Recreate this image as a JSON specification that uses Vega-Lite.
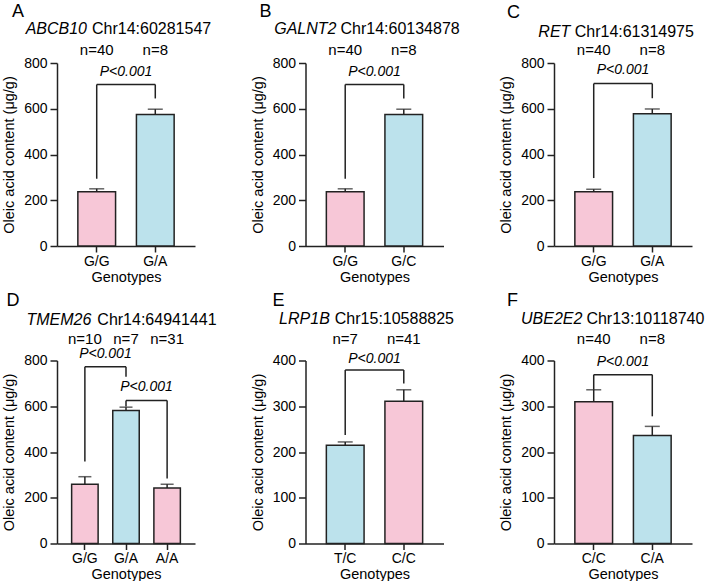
{
  "$schema": "https://vega.github.io/schema/vega-lite/v6.json",
  "background": "white",
  "padding": {"left": 1, "top": 3, "right": 0, "bottom": 0},
  "config": {
    "view": {"stroke": null},
    "font": "Liberation Sans",
    "axis": {"domainColor": "#222", "domainWidth": 1.5, "tickColor": "#222", "tickWidth": 1.5, "labelFont": "Liberation Sans", "labelFontSize": 14, "labelColor": "#000", "titleFont": "Liberation Sans", "titleFontSize": 14.5, "titleFontWeight": "normal", "titleColor": "#000", "grid": false},
    "axisX": {"tickSize": 6, "labelPadding": 2, "titlePadding": 2, "labelAngle": 0},
    "axisY": {"tickSize": 7, "labelPadding": 3, "titlePadding": 7},
    "text": {"font": "Liberation Sans", "fontSize": 14, "color": "#000", "baseline": "alphabetic"},
    "rule": {"color": "#222", "strokeWidth": 1.5},
    "tick": {"color": "#222", "thickness": 1.5},
    "bar": {"stroke": "#222", "strokeWidth": 1.5}
  },
  "columns": 3,
  "spacing": {"row": 114.5, "column": 110.5},
  "bounds": "flush",
  "concat": [
    {
      "width": 138, "height": 183,
      "data": {"values": [
        {"g": "G/G", "mean": 237, "upper": 250, "n": "n=40", "hom": "homo"},
        {"g": "G/A", "mean": 575, "upper": 598, "n": "n=8", "hom": "het"}
      ]},
      "layer": [
        {"mark": "bar", "encoding": {
          "x": {"field": "g", "type": "nominal", "scale": {"domain": ["G/G", "G/A"], "paddingInner": 0.356, "paddingOuter": 0.356}, "axis": {"title": "Genotypes"}},
          "y": {"field": "mean", "type": "quantitative", "scale": {"domain": [0, 800]}, "axis": {"title": "Oleic acid content (μg/g)", "values": [0, 200, 400, 600, 800]}},
          "color": {"field": "hom", "type": "nominal", "scale": {"domain": ["homo", "het"], "range": ["#F7C7D7", "#BCE2EC"]}, "legend": null}}},
        {"mark": "rule", "encoding": {
          "x": {"field": "g", "type": "nominal", "scale": {"domain": ["G/G", "G/A"], "paddingInner": 0.356, "paddingOuter": 0.356}},
          "y": {"field": "mean", "type": "quantitative", "scale": {"domain": [0, 800]}}, "y2": {"field": "upper"}}},
        {"mark": {"type": "tick", "size": 15}, "encoding": {
          "x": {"field": "g", "type": "nominal", "scale": {"domain": ["G/G", "G/A"], "paddingInner": 0.356, "paddingOuter": 0.356}},
          "y": {"field": "upper", "type": "quantitative", "scale": {"domain": [0, 800]}}}},
        {"mark": {"type": "text", "fontSize": 15}, "encoding": {
          "x": {"field": "g", "type": "nominal", "scale": {"domain": ["G/G", "G/A"], "paddingInner": 0.356, "paddingOuter": 0.356}},
          "y": {"datum": 837, "type": "quantitative", "scale": {"domain": [0, 800]}},
          "text": {"field": "n"}}},
        {"data": {"values": [{"from": "G/G", "to": "G/A", "top": 706, "lb": 294, "rb": 645, "pt": 745, "p": "P<0.001"}]},
         "layer": [
          {"mark": "rule", "encoding": {
            "x": {"field": "from", "type": "nominal", "scale": {"domain": ["G/G", "G/A"], "paddingInner": 0.356, "paddingOuter": 0.356}}, "x2": {"field": "to"},
            "y": {"field": "top", "type": "quantitative", "scale": {"domain": [0, 800]}}}},
          {"mark": "rule", "encoding": {
            "x": {"field": "from", "type": "nominal", "scale": {"domain": ["G/G", "G/A"], "paddingInner": 0.356, "paddingOuter": 0.356}},
            "y": {"field": "lb", "type": "quantitative", "scale": {"domain": [0, 800]}}, "y2": {"field": "top"}}},
          {"mark": "rule", "encoding": {
            "x": {"field": "to", "type": "nominal", "scale": {"domain": ["G/G", "G/A"], "paddingInner": 0.356, "paddingOuter": 0.356}},
            "y": {"field": "rb", "type": "quantitative", "scale": {"domain": [0, 800]}}, "y2": {"field": "top"}}},
          {"mark": {"type": "text", "fontStyle": "italic"}, "encoding": {
            "x": {"field": "from", "type": "nominal", "bandPosition": 1.276, "scale": {"domain": ["G/G", "G/A"], "paddingInner": 0.356, "paddingOuter": 0.356}},
            "y": {"field": "pt", "type": "quantitative", "scale": {"domain": [0, 800]}},
            "text": {"field": "p"}}}
         ]},
        {"data": {"values": [{}]},
         "layer": [
          {"mark": {"type": "text", "text": "ABCB10", "fontStyle": "italic", "fontSize": 16, "align": "right"}, "encoding": {
            "x": {"datum": "G/G", "type": "nominal", "bandPosition": 0.243, "scale": {"domain": ["G/G", "G/A"], "paddingInner": 0.356, "paddingOuter": 0.356}},
            "y": {"datum": 925, "type": "quantitative", "scale": {"domain": [0, 800]}}}},
          {"mark": {"type": "text", "text": "Chr14:60281547", "fontSize": 16, "align": "left"}, "encoding": {
            "x": {"datum": "G/G", "type": "nominal", "bandPosition": 0.375, "scale": {"domain": ["G/G", "G/A"], "paddingInner": 0.356, "paddingOuter": 0.356}},
            "y": {"datum": 925, "type": "quantitative", "scale": {"domain": [0, 800]}}}},
          {"mark": {"type": "text", "text": "A", "fontSize": 18, "align": "left"}, "encoding": {
            "x": {"datum": "G/G", "type": "nominal", "bandPosition": -1.747, "scale": {"domain": ["G/G", "G/A"], "paddingInner": 0.356, "paddingOuter": 0.356}},
            "y": {"datum": 1000, "type": "quantitative", "scale": {"domain": [0, 800]}}}}
         ]}
      ]
    },
    {
      "width": 138, "height": 183,
      "data": {"values": [
        {"g": "G/G", "mean": 237, "upper": 250, "n": "n=40", "hom": "homo"},
        {"g": "G/C", "mean": 575, "upper": 598, "n": "n=8", "hom": "het"}
      ]},
      "layer": [
        {"mark": "bar", "encoding": {
          "x": {"field": "g", "type": "nominal", "scale": {"domain": ["G/G", "G/C"], "paddingInner": 0.356, "paddingOuter": 0.356}, "axis": {"title": "Genotypes"}},
          "y": {"field": "mean", "type": "quantitative", "scale": {"domain": [0, 800]}, "axis": {"title": "Oleic acid content (μg/g)", "values": [0, 200, 400, 600, 800]}},
          "color": {"field": "hom", "type": "nominal", "scale": {"domain": ["homo", "het"], "range": ["#F7C7D7", "#BCE2EC"]}, "legend": null}}},
        {"mark": "rule", "encoding": {
          "x": {"field": "g", "type": "nominal", "scale": {"domain": ["G/G", "G/C"], "paddingInner": 0.356, "paddingOuter": 0.356}},
          "y": {"field": "mean", "type": "quantitative", "scale": {"domain": [0, 800]}}, "y2": {"field": "upper"}}},
        {"mark": {"type": "tick", "size": 15}, "encoding": {
          "x": {"field": "g", "type": "nominal", "scale": {"domain": ["G/G", "G/C"], "paddingInner": 0.356, "paddingOuter": 0.356}},
          "y": {"field": "upper", "type": "quantitative", "scale": {"domain": [0, 800]}}}},
        {"mark": {"type": "text", "fontSize": 15}, "encoding": {
          "x": {"field": "g", "type": "nominal", "scale": {"domain": ["G/G", "G/C"], "paddingInner": 0.356, "paddingOuter": 0.356}},
          "y": {"datum": 837, "type": "quantitative", "scale": {"domain": [0, 800]}},
          "text": {"field": "n"}}},
        {"data": {"values": [{"from": "G/G", "to": "G/C", "top": 706, "lb": 294, "rb": 645, "pt": 745, "p": "P<0.001"}]},
         "layer": [
          {"mark": "rule", "encoding": {
            "x": {"field": "from", "type": "nominal", "scale": {"domain": ["G/G", "G/C"], "paddingInner": 0.356, "paddingOuter": 0.356}}, "x2": {"field": "to"},
            "y": {"field": "top", "type": "quantitative", "scale": {"domain": [0, 800]}}}},
          {"mark": "rule", "encoding": {
            "x": {"field": "from", "type": "nominal", "scale": {"domain": ["G/G", "G/C"], "paddingInner": 0.356, "paddingOuter": 0.356}},
            "y": {"field": "lb", "type": "quantitative", "scale": {"domain": [0, 800]}}, "y2": {"field": "top"}}},
          {"mark": "rule", "encoding": {
            "x": {"field": "to", "type": "nominal", "scale": {"domain": ["G/G", "G/C"], "paddingInner": 0.356, "paddingOuter": 0.356}},
            "y": {"field": "rb", "type": "quantitative", "scale": {"domain": [0, 800]}}, "y2": {"field": "top"}}},
          {"mark": {"type": "text", "fontStyle": "italic"}, "encoding": {
            "x": {"field": "from", "type": "nominal", "bandPosition": 1.276, "scale": {"domain": ["G/G", "G/C"], "paddingInner": 0.356, "paddingOuter": 0.356}},
            "y": {"field": "pt", "type": "quantitative", "scale": {"domain": [0, 800]}},
            "text": {"field": "p"}}}
         ]},
        {"data": {"values": [{}]},
         "layer": [
          {"mark": {"type": "text", "text": "GALNT2", "fontStyle": "italic", "fontSize": 16, "align": "right"}, "encoding": {
            "x": {"datum": "G/G", "type": "nominal", "bandPosition": 0.269, "scale": {"domain": ["G/G", "G/C"], "paddingInner": 0.356, "paddingOuter": 0.356}},
            "y": {"datum": 925, "type": "quantitative", "scale": {"domain": [0, 800]}}}},
          {"mark": {"type": "text", "text": "Chr14:60134878", "fontSize": 16, "align": "left"}, "encoding": {
            "x": {"datum": "G/G", "type": "nominal", "bandPosition": 0.375, "scale": {"domain": ["G/G", "G/C"], "paddingInner": 0.356, "paddingOuter": 0.356}},
            "y": {"datum": 925, "type": "quantitative", "scale": {"domain": [0, 800]}}}},
          {"mark": {"type": "text", "text": "B", "fontSize": 18, "align": "left"}, "encoding": {
            "x": {"datum": "G/G", "type": "nominal", "bandPosition": -1.773, "scale": {"domain": ["G/G", "G/C"], "paddingInner": 0.356, "paddingOuter": 0.356}},
            "y": {"datum": 1000, "type": "quantitative", "scale": {"domain": [0, 800]}}}}
         ]}
      ]
    },
    {
      "width": 138, "height": 183,
      "data": {"values": [
        {"g": "G/G", "mean": 237, "upper": 248, "n": "n=40", "hom": "homo"},
        {"g": "G/A", "mean": 578, "upper": 599, "n": "n=8", "hom": "het"}
      ]},
      "layer": [
        {"mark": "bar", "encoding": {
          "x": {"field": "g", "type": "nominal", "scale": {"domain": ["G/G", "G/A"], "paddingInner": 0.356, "paddingOuter": 0.356}, "axis": {"title": "Genotypes"}},
          "y": {"field": "mean", "type": "quantitative", "scale": {"domain": [0, 800]}, "axis": {"title": "Oleic acid content (μg/g)", "values": [0, 200, 400, 600, 800]}},
          "color": {"field": "hom", "type": "nominal", "scale": {"domain": ["homo", "het"], "range": ["#F7C7D7", "#BCE2EC"]}, "legend": null}}},
        {"mark": "rule", "encoding": {
          "x": {"field": "g", "type": "nominal", "scale": {"domain": ["G/G", "G/A"], "paddingInner": 0.356, "paddingOuter": 0.356}},
          "y": {"field": "mean", "type": "quantitative", "scale": {"domain": [0, 800]}}, "y2": {"field": "upper"}}},
        {"mark": {"type": "tick", "size": 15}, "encoding": {
          "x": {"field": "g", "type": "nominal", "scale": {"domain": ["G/G", "G/A"], "paddingInner": 0.356, "paddingOuter": 0.356}},
          "y": {"field": "upper", "type": "quantitative", "scale": {"domain": [0, 800]}}}},
        {"mark": {"type": "text", "fontSize": 15}, "encoding": {
          "x": {"field": "g", "type": "nominal", "scale": {"domain": ["G/G", "G/A"], "paddingInner": 0.356, "paddingOuter": 0.356}},
          "y": {"datum": 833, "type": "quantitative", "scale": {"domain": [0, 800]}},
          "text": {"field": "n"}}},
        {"data": {"values": [{"from": "G/G", "to": "G/A", "top": 710, "lb": 297, "rb": 646, "pt": 750, "p": "P<0.001"}]},
         "layer": [
          {"mark": "rule", "encoding": {
            "x": {"field": "from", "type": "nominal", "scale": {"domain": ["G/G", "G/A"], "paddingInner": 0.356, "paddingOuter": 0.356}}, "x2": {"field": "to"},
            "y": {"field": "top", "type": "quantitative", "scale": {"domain": [0, 800]}}}},
          {"mark": "rule", "encoding": {
            "x": {"field": "from", "type": "nominal", "scale": {"domain": ["G/G", "G/A"], "paddingInner": 0.356, "paddingOuter": 0.356}},
            "y": {"field": "lb", "type": "quantitative", "scale": {"domain": [0, 800]}}, "y2": {"field": "top"}}},
          {"mark": "rule", "encoding": {
            "x": {"field": "to", "type": "nominal", "scale": {"domain": ["G/G", "G/A"], "paddingInner": 0.356, "paddingOuter": 0.356}},
            "y": {"field": "rb", "type": "quantitative", "scale": {"domain": [0, 800]}}, "y2": {"field": "top"}}},
          {"mark": {"type": "text", "fontStyle": "italic"}, "encoding": {
            "x": {"field": "from", "type": "nominal", "bandPosition": 1.276, "scale": {"domain": ["G/G", "G/A"], "paddingInner": 0.356, "paddingOuter": 0.356}},
            "y": {"field": "pt", "type": "quantitative", "scale": {"domain": [0, 800]}},
            "text": {"field": "p"}}}
         ]},
        {"data": {"values": [{}]},
         "layer": [
          {"mark": {"type": "text", "text": "RET", "fontStyle": "italic", "fontSize": 16, "align": "right"}, "encoding": {
            "x": {"datum": "G/G", "type": "nominal", "bandPosition": -0.12, "scale": {"domain": ["G/G", "G/A"], "paddingInner": 0.356, "paddingOuter": 0.356}},
            "y": {"datum": 915, "type": "quantitative", "scale": {"domain": [0, 800]}}}},
          {"mark": {"type": "text", "text": "Chr14:61314975", "fontSize": 16, "align": "left"}, "encoding": {
            "x": {"datum": "G/G", "type": "nominal", "bandPosition": -0.004, "scale": {"domain": ["G/G", "G/A"], "paddingInner": 0.356, "paddingOuter": 0.356}},
            "y": {"datum": 915, "type": "quantitative", "scale": {"domain": [0, 800]}}}},
          {"mark": {"type": "text", "text": "C", "fontSize": 18, "align": "left"}, "encoding": {
            "x": {"datum": "G/G", "type": "nominal", "bandPosition": -1.8, "scale": {"domain": ["G/G", "G/A"], "paddingInner": 0.356, "paddingOuter": 0.356}},
            "y": {"datum": 995, "type": "quantitative", "scale": {"domain": [0, 800]}}}}
         ]}
      ]
    },
    {
      "width": 138, "height": 183,
      "data": {"values": [
        {"g": "G/G", "mean": 259, "upper": 292, "n": "n=10", "hom": "homo"},
        {"g": "G/A", "mean": 581, "upper": 596, "n": "n=7", "hom": "het"},
        {"g": "A/A", "mean": 243, "upper": 259, "n": "n=31", "hom": "homo"}
      ]},
      "layer": [
        {"mark": "bar", "encoding": {
          "x": {"field": "g", "type": "nominal", "scale": {"domain": ["G/G", "G/A", "A/A"], "paddingInner": 0.356, "paddingOuter": 0.356}, "axis": {"title": "Genotypes"}},
          "y": {"field": "mean", "type": "quantitative", "scale": {"domain": [0, 800]}, "axis": {"title": "Oleic acid content (μg/g)", "values": [0, 200, 400, 600, 800]}},
          "color": {"field": "hom", "type": "nominal", "scale": {"domain": ["homo", "het"], "range": ["#F7C7D7", "#BCE2EC"]}, "legend": null}}},
        {"mark": "rule", "encoding": {
          "x": {"field": "g", "type": "nominal", "scale": {"domain": ["G/G", "G/A", "A/A"], "paddingInner": 0.356, "paddingOuter": 0.356}},
          "y": {"field": "mean", "type": "quantitative", "scale": {"domain": [0, 800]}}, "y2": {"field": "upper"}}},
        {"mark": {"type": "tick", "size": 13}, "encoding": {
          "x": {"field": "g", "type": "nominal", "scale": {"domain": ["G/G", "G/A", "A/A"], "paddingInner": 0.356, "paddingOuter": 0.356}},
          "y": {"field": "upper", "type": "quantitative", "scale": {"domain": [0, 800]}}}},
        {"mark": {"type": "text", "fontSize": 15}, "encoding": {
          "x": {"field": "g", "type": "nominal", "scale": {"domain": ["G/G", "G/A", "A/A"], "paddingInner": 0.356, "paddingOuter": 0.356}},
          "y": {"datum": 873, "type": "quantitative", "scale": {"domain": [0, 800]}},
          "text": {"field": "n"}}},
        {"data": {"values": [
          {"from": "G/G", "to": "G/A", "top": 773, "lb": 359, "rb": 729, "pt": 810, "p": "P<0.001"},
          {"from": "G/A", "to": "A/A", "top": 625, "lb": 599, "rb": 284, "pt": 667, "p": "P<0.001"}]},
         "layer": [
          {"mark": "rule", "encoding": {
            "x": {"field": "from", "type": "nominal", "scale": {"domain": ["G/G", "G/A", "A/A"], "paddingInner": 0.356, "paddingOuter": 0.356}}, "x2": {"field": "to"},
            "y": {"field": "top", "type": "quantitative", "scale": {"domain": [0, 800]}}}},
          {"mark": "rule", "encoding": {
            "x": {"field": "from", "type": "nominal", "scale": {"domain": ["G/G", "G/A", "A/A"], "paddingInner": 0.356, "paddingOuter": 0.356}},
            "y": {"field": "lb", "type": "quantitative", "scale": {"domain": [0, 800]}}, "y2": {"field": "top"}}},
          {"mark": "rule", "encoding": {
            "x": {"field": "to", "type": "nominal", "scale": {"domain": ["G/G", "G/A", "A/A"], "paddingInner": 0.356, "paddingOuter": 0.356}},
            "y": {"field": "rb", "type": "quantitative", "scale": {"domain": [0, 800]}}, "y2": {"field": "top"}}},
          {"mark": {"type": "text", "fontStyle": "italic"}, "encoding": {
            "x": {"field": "from", "type": "nominal", "bandPosition": 1.276, "scale": {"domain": ["G/G", "G/A", "A/A"], "paddingInner": 0.356, "paddingOuter": 0.356}},
            "y": {"field": "pt", "type": "quantitative", "scale": {"domain": [0, 800]}},
            "text": {"field": "p"}}}
         ]},
        {"data": {"values": [{}]},
         "layer": [
          {"mark": {"type": "text", "text": "TMEM26", "fontStyle": "italic", "fontSize": 16, "align": "right"}, "encoding": {
            "x": {"datum": "G/G", "type": "nominal", "bandPosition": 0.743, "scale": {"domain": ["G/G", "G/A", "A/A"], "paddingInner": 0.356, "paddingOuter": 0.356}},
            "y": {"datum": 957, "type": "quantitative", "scale": {"domain": [0, 800]}}}},
          {"mark": {"type": "text", "text": "Chr14:64941441", "fontSize": 16, "align": "left"}, "encoding": {
            "x": {"datum": "G/G", "type": "nominal", "bandPosition": 0.97, "scale": {"domain": ["G/G", "G/A", "A/A"], "paddingInner": 0.356, "paddingOuter": 0.356}},
            "y": {"datum": 957, "type": "quantitative", "scale": {"domain": [0, 800]}}}},
          {"mark": {"type": "text", "text": "D", "fontSize": 18, "align": "left"}, "encoding": {
            "x": {"datum": "G/G", "type": "nominal", "bandPosition": -2.464, "scale": {"domain": ["G/G", "G/A", "A/A"], "paddingInner": 0.356, "paddingOuter": 0.356}},
            "y": {"datum": 1040, "type": "quantitative", "scale": {"domain": [0, 800]}}}}
         ]}
      ]
    },
    {
      "width": 138, "height": 183,
      "data": {"values": [
        {"g": "T/C", "mean": 215, "upper": 222, "n": "n=7", "hom": "het"},
        {"g": "C/C", "mean": 311, "upper": 336, "n": "n=41", "hom": "homo"}
      ]},
      "layer": [
        {"mark": "bar", "encoding": {
          "x": {"field": "g", "type": "nominal", "scale": {"domain": ["T/C", "C/C"], "paddingInner": 0.356, "paddingOuter": 0.356}, "axis": {"title": "Genotypes"}},
          "y": {"field": "mean", "type": "quantitative", "scale": {"domain": [0, 400]}, "axis": {"title": "Oleic acid content (μg/g)", "values": [0, 100, 200, 300, 400]}},
          "color": {"field": "hom", "type": "nominal", "scale": {"domain": ["homo", "het"], "range": ["#F7C7D7", "#BCE2EC"]}, "legend": null}}},
        {"mark": "rule", "encoding": {
          "x": {"field": "g", "type": "nominal", "scale": {"domain": ["T/C", "C/C"], "paddingInner": 0.356, "paddingOuter": 0.356}},
          "y": {"field": "mean", "type": "quantitative", "scale": {"domain": [0, 400]}}, "y2": {"field": "upper"}}},
        {"mark": {"type": "tick", "size": 15}, "encoding": {
          "x": {"field": "g", "type": "nominal", "scale": {"domain": ["T/C", "C/C"], "paddingInner": 0.356, "paddingOuter": 0.356}},
          "y": {"field": "upper", "type": "quantitative", "scale": {"domain": [0, 400]}}}},
        {"mark": {"type": "text", "fontSize": 15}, "encoding": {
          "x": {"field": "g", "type": "nominal", "scale": {"domain": ["T/C", "C/C"], "paddingInner": 0.356, "paddingOuter": 0.356}},
          "y": {"datum": 436, "type": "quantitative", "scale": {"domain": [0, 400]}},
          "text": {"field": "n"}}},
        {"data": {"values": [{"from": "T/C", "to": "C/C", "top": 379, "lb": 237, "rb": 350, "pt": 395, "p": "P<0.001"}]},
         "layer": [
          {"mark": "rule", "encoding": {
            "x": {"field": "from", "type": "nominal", "scale": {"domain": ["T/C", "C/C"], "paddingInner": 0.356, "paddingOuter": 0.356}}, "x2": {"field": "to"},
            "y": {"field": "top", "type": "quantitative", "scale": {"domain": [0, 400]}}}},
          {"mark": "rule", "encoding": {
            "x": {"field": "from", "type": "nominal", "scale": {"domain": ["T/C", "C/C"], "paddingInner": 0.356, "paddingOuter": 0.356}},
            "y": {"field": "lb", "type": "quantitative", "scale": {"domain": [0, 400]}}, "y2": {"field": "top"}}},
          {"mark": "rule", "encoding": {
            "x": {"field": "to", "type": "nominal", "scale": {"domain": ["T/C", "C/C"], "paddingInner": 0.356, "paddingOuter": 0.356}},
            "y": {"field": "rb", "type": "quantitative", "scale": {"domain": [0, 400]}}, "y2": {"field": "top"}}},
          {"mark": {"type": "text", "fontStyle": "italic"}, "encoding": {
            "x": {"field": "from", "type": "nominal", "bandPosition": 1.276, "scale": {"domain": ["T/C", "C/C"], "paddingInner": 0.356, "paddingOuter": 0.356}},
            "y": {"field": "pt", "type": "quantitative", "scale": {"domain": [0, 400]}},
            "text": {"field": "p"}}}
         ]},
        {"data": {"values": [{}]},
         "layer": [
          {"mark": {"type": "text", "text": "LRP1B", "fontStyle": "italic", "fontSize": 16, "align": "right"}, "encoding": {
            "x": {"datum": "T/C", "type": "nominal", "bandPosition": 0.092, "scale": {"domain": ["T/C", "C/C"], "paddingInner": 0.356, "paddingOuter": 0.356}},
            "y": {"datum": 479, "type": "quantitative", "scale": {"domain": [0, 400]}}}},
          {"mark": {"type": "text", "text": "Chr15:10588825", "fontSize": 16, "align": "left"}, "encoding": {
            "x": {"datum": "T/C", "type": "nominal", "bandPosition": 0.224, "scale": {"domain": ["T/C", "C/C"], "paddingInner": 0.356, "paddingOuter": 0.356}},
            "y": {"datum": 479, "type": "quantitative", "scale": {"domain": [0, 400]}}}},
          {"mark": {"type": "text", "text": "E", "fontSize": 18, "align": "left"}, "encoding": {
            "x": {"datum": "T/C", "type": "nominal", "bandPosition": -1.428, "scale": {"domain": ["T/C", "C/C"], "paddingInner": 0.356, "paddingOuter": 0.356}},
            "y": {"datum": 520, "type": "quantitative", "scale": {"domain": [0, 400]}}}}
         ]}
      ]
    },
    {
      "width": 138, "height": 183,
      "data": {"values": [
        {"g": "C/C", "mean": 310, "upper": 336, "n": "n=40", "hom": "homo"},
        {"g": "C/A", "mean": 236, "upper": 256, "n": "n=8", "hom": "het"}
      ]},
      "layer": [
        {"mark": "bar", "encoding": {
          "x": {"field": "g", "type": "nominal", "scale": {"domain": ["C/C", "C/A"], "paddingInner": 0.356, "paddingOuter": 0.356}, "axis": {"title": "Genotypes"}},
          "y": {"field": "mean", "type": "quantitative", "scale": {"domain": [0, 400]}, "axis": {"title": "Oleic acid content (μg/g)", "values": [0, 100, 200, 300, 400]}},
          "color": {"field": "hom", "type": "nominal", "scale": {"domain": ["homo", "het"], "range": ["#F7C7D7", "#BCE2EC"]}, "legend": null}}},
        {"mark": "rule", "encoding": {
          "x": {"field": "g", "type": "nominal", "scale": {"domain": ["C/C", "C/A"], "paddingInner": 0.356, "paddingOuter": 0.356}},
          "y": {"field": "mean", "type": "quantitative", "scale": {"domain": [0, 400]}}, "y2": {"field": "upper"}}},
        {"mark": {"type": "tick", "size": 15}, "encoding": {
          "x": {"field": "g", "type": "nominal", "scale": {"domain": ["C/C", "C/A"], "paddingInner": 0.356, "paddingOuter": 0.356}},
          "y": {"field": "upper", "type": "quantitative", "scale": {"domain": [0, 400]}}}},
        {"mark": {"type": "text", "fontSize": 15}, "encoding": {
          "x": {"field": "g", "type": "nominal", "scale": {"domain": ["C/C", "C/A"], "paddingInner": 0.356, "paddingOuter": 0.356}},
          "y": {"datum": 436, "type": "quantitative", "scale": {"domain": [0, 400]}},
          "text": {"field": "n"}}},
        {"data": {"values": [{"from": "C/C", "to": "C/A", "top": 369, "lb": 336, "rb": 278, "pt": 388, "p": "P<0.001"}]},
         "layer": [
          {"mark": "rule", "encoding": {
            "x": {"field": "from", "type": "nominal", "scale": {"domain": ["C/C", "C/A"], "paddingInner": 0.356, "paddingOuter": 0.356}}, "x2": {"field": "to"},
            "y": {"field": "top", "type": "quantitative", "scale": {"domain": [0, 400]}}}},
          {"mark": "rule", "encoding": {
            "x": {"field": "from", "type": "nominal", "scale": {"domain": ["C/C", "C/A"], "paddingInner": 0.356, "paddingOuter": 0.356}},
            "y": {"field": "lb", "type": "quantitative", "scale": {"domain": [0, 400]}}, "y2": {"field": "top"}}},
          {"mark": "rule", "encoding": {
            "x": {"field": "to", "type": "nominal", "scale": {"domain": ["C/C", "C/A"], "paddingInner": 0.356, "paddingOuter": 0.356}},
            "y": {"field": "rb", "type": "quantitative", "scale": {"domain": [0, 400]}}, "y2": {"field": "top"}}},
          {"mark": {"type": "text", "fontStyle": "italic"}, "encoding": {
            "x": {"field": "from", "type": "nominal", "bandPosition": 1.276, "scale": {"domain": ["C/C", "C/A"], "paddingInner": 0.356, "paddingOuter": 0.356}},
            "y": {"field": "pt", "type": "quantitative", "scale": {"domain": [0, 400]}},
            "text": {"field": "p"}}}
         ]},
        {"data": {"values": [{}]},
         "layer": [
          {"mark": {"type": "text", "text": "UBE2E2", "fontStyle": "italic", "fontSize": 16, "align": "right"}, "encoding": {
            "x": {"datum": "C/C", "type": "nominal", "bandPosition": 0.2, "scale": {"domain": ["C/C", "C/A"], "paddingInner": 0.356, "paddingOuter": 0.356}},
            "y": {"datum": 479, "type": "quantitative", "scale": {"domain": [0, 400]}}}},
          {"mark": {"type": "text", "text": "Chr13:10118740", "fontSize": 16, "align": "left"}, "encoding": {
            "x": {"datum": "C/C", "type": "nominal", "bandPosition": 0.306, "scale": {"domain": ["C/C", "C/A"], "paddingInner": 0.356, "paddingOuter": 0.356}},
            "y": {"datum": 479, "type": "quantitative", "scale": {"domain": [0, 400]}}}},
          {"mark": {"type": "text", "text": "F", "fontSize": 18, "align": "left"}, "encoding": {
            "x": {"datum": "C/C", "type": "nominal", "bandPosition": -1.8, "scale": {"domain": ["C/C", "C/A"], "paddingInner": 0.356, "paddingOuter": 0.356}},
            "y": {"datum": 520, "type": "quantitative", "scale": {"domain": [0, 400]}}}}
         ]}
      ]
    }
  ]
}
